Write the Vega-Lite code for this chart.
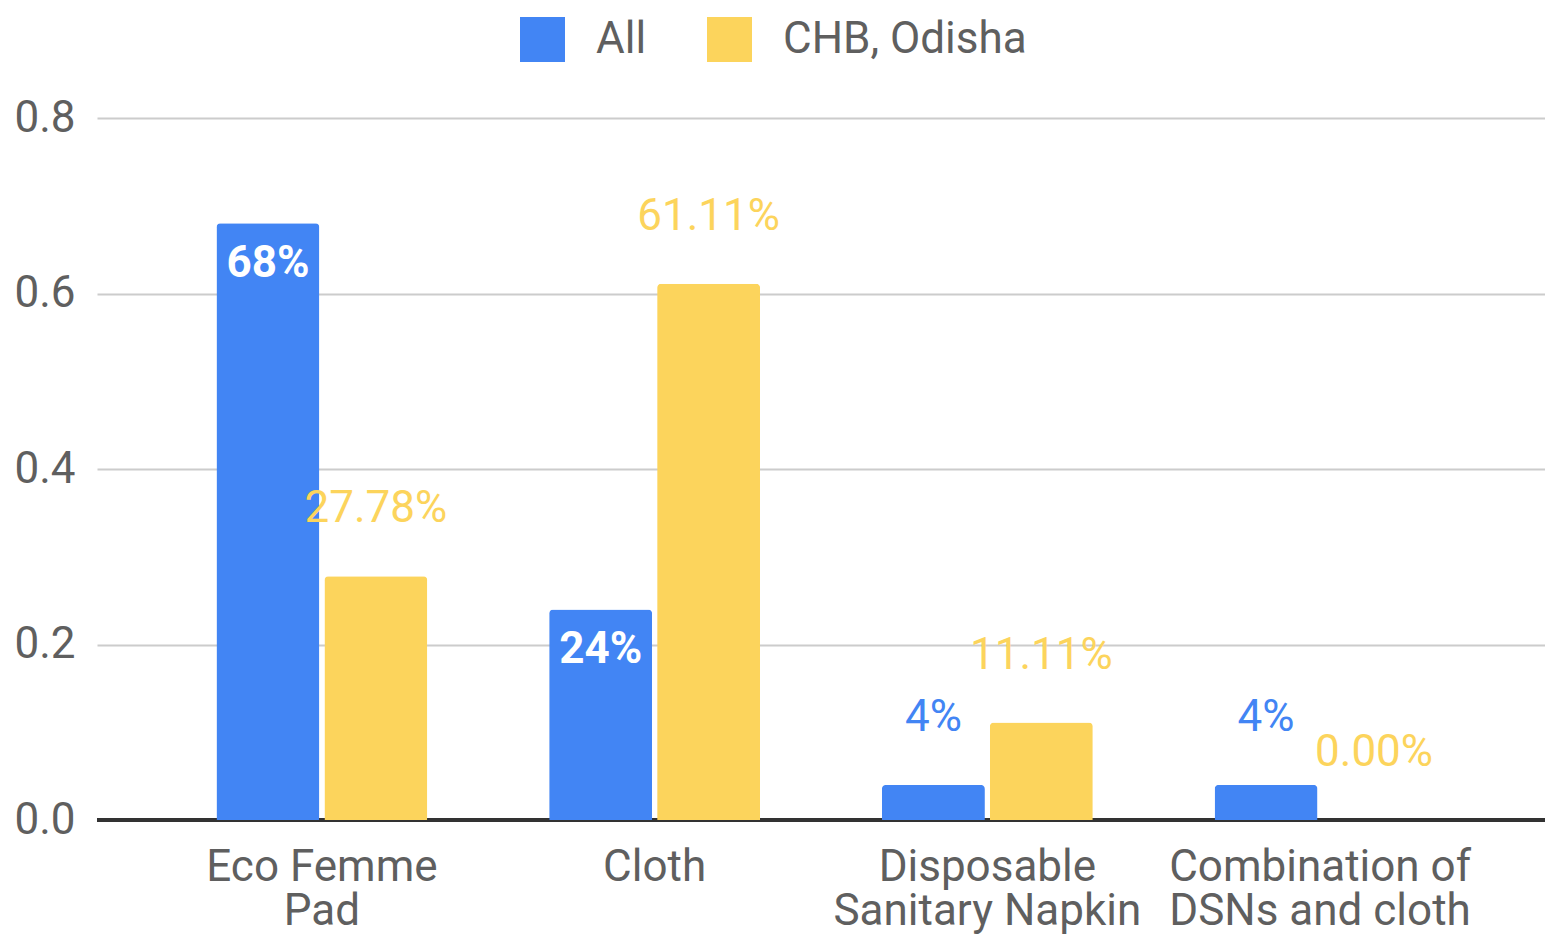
{
  "$schema": "https://vega.github.io/schema/vega-lite/v6.json",
  "width": 1448,
  "height": 702,
  "autosize": {"type": "none"},
  "padding": {"left": 97, "top": 118, "right": 0, "bottom": 114},
  "background": "white",
  "config": {
    "view": {"stroke": null},
    "font": "Roboto",
    "axis": {"labelFont": "Roboto", "labelColor": "#5f5f5f", "labelFontSize": 44}
  },
  "data": {
    "values": [
      {"category": "Eco Femme Pad", "series": "All", "value": 0.68},
      {"category": "Eco Femme Pad", "series": "CHB, Odisha", "value": 0.2778},
      {"category": "Cloth", "series": "All", "value": 0.24},
      {"category": "Cloth", "series": "CHB, Odisha", "value": 0.6111},
      {"category": "Disposable Sanitary Napkin", "series": "All", "value": 0.04},
      {"category": "Disposable Sanitary Napkin", "series": "CHB, Odisha", "value": 0.1111},
      {"category": "Combination of DSNs and cloth", "series": "All", "value": 0.04},
      {"category": "Combination of DSNs and cloth", "series": "CHB, Odisha", "value": 0.0}
    ]
  },
  "encoding": {
    "x": {
      "field": "category",
      "type": "nominal",
      "sort": null,
      "scale": {"paddingInner": 0.366, "paddingOuter": 0.359},
      "axis": {
        "title": null,
        "ticks": false,
        "domain": false,
        "labelAngle": 0,
        "labelPadding": 25,
        "labelLineHeight": 44,
        "labelLimit": 600,
        "labelBaseline": "top",
        "labelExpr": "datum.value == 'Eco Femme Pad' ? ['Eco Femme', 'Pad'] : datum.value == 'Disposable Sanitary Napkin' ? ['Disposable', 'Sanitary Napkin'] : datum.value == 'Combination of DSNs and cloth' ? ['Combination of', 'DSNs and cloth'] : datum.value"
      }
    },
    "xOffset": {
      "field": "series",
      "type": "nominal",
      "scale": {"paddingInner": 0.046, "paddingOuter": 0}
    },
    "y": {
      "field": "value",
      "type": "quantitative",
      "scale": {"domain": [0, 0.8], "nice": false},
      "axis": {
        "title": null,
        "values": [0, 0.2, 0.4, 0.6, 0.8],
        "format": ".1f",
        "domain": false,
        "ticks": false,
        "labelPadding": 22,
        "gridColor": "#cccccc",
        "gridWidth": 2
      }
    }
  },
  "layer": [
    {
      "mark": {"type": "rule", "color": "#333333", "strokeWidth": 3},
      "encoding": {"y": {"datum": 0}, "x": null, "xOffset": null}
    },
    {
      "mark": {"type": "bar", "cornerRadiusTopLeft": 4, "cornerRadiusTopRight": 4},
      "encoding": {
        "color": {
          "field": "series",
          "type": "nominal",
          "scale": {"domain": ["All", "CHB, Odisha"], "range": ["#4285f4", "#fcd45c"]},
          "legend": {
            "title": null,
            "orient": "none",
            "direction": "horizontal",
            "legendX": 423,
            "legendY": -101,
            "padding": 0,
            "symbolType": "square",
            "symbolSize": 2025,
            "symbolStrokeWidth": 0,
            "labelFont": "Roboto",
            "labelFontSize": 44,
            "labelColor": "#5f5f5f",
            "labelOffset": 31,
            "labelLimit": 500,
            "columnPadding": 60
          }
        }
      }
    },
    {
      "transform": [{"filter": "datum.series == 'All' && datum.value > 0.1"}],
      "mark": {"type": "text", "color": "white", "fontSize": 44, "fontWeight": "bold", "baseline": "alphabetic", "dy": 54, "font": "Roboto"},
      "encoding": {"text": {"field": "value", "type": "quantitative", "format": ".0%"}}
    },
    {
      "transform": [{"filter": "datum.series == 'All' && datum.value <= 0.1"}],
      "mark": {"type": "text", "color": "#4285f4", "fontSize": 44, "baseline": "alphabetic", "dy": -54, "font": "Roboto"},
      "encoding": {"text": {"field": "value", "type": "quantitative", "format": ".0%"}}
    },
    {
      "transform": [{"filter": "datum.series == 'CHB, Odisha'"}],
      "mark": {"type": "text", "color": "#fcd45c", "fontSize": 44, "baseline": "alphabetic", "dy": -54, "font": "Roboto"},
      "encoding": {"text": {"field": "value", "type": "quantitative", "format": ".2%"}}
    }
  ]
}
